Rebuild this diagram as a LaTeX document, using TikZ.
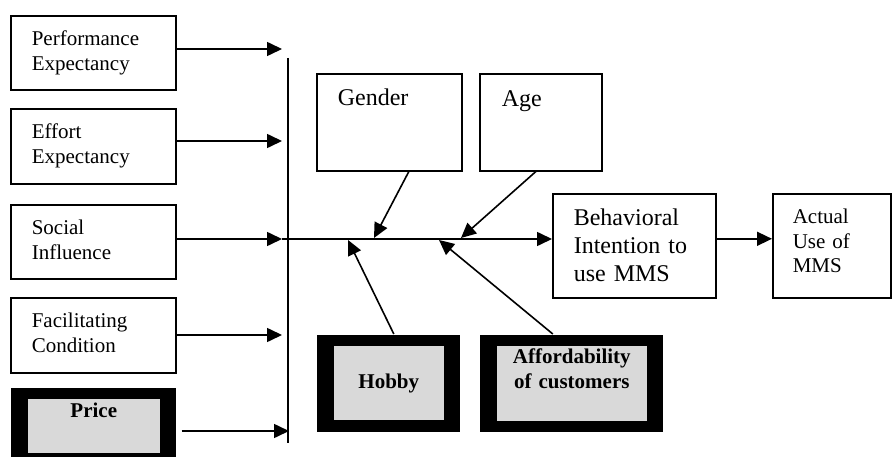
\documentclass[tikz,border=0pt]{standalone}
\usepackage{fontspec}
\setmainfont{Liberation Serif}
\usepackage{tikz}
\usetikzlibrary{arrows.meta}
\usepackage{xcolor}
\definecolor{boxgrey}{RGB}{217,217,217}

\begin{document}
\begin{tikzpicture}[x=1pt,y=-1pt,>={Triangle[length=15pt,width=14pt]},
  line width=1.6pt,
  plainbox/.style={draw,anchor=north west,inner ysep=0pt,align=left},
  smallfont/.style={font=\fontsize{21}{25}\selectfont},
  bigfont/.style={font=\fontsize{24}{28}\selectfont},
  framebox/.style={fill=black,anchor=north west,inner sep=0pt},
  greybox/.style={fill=boxgrey,anchor=north west,inner sep=0pt,align=center,
    font=\fontsize{21}{25}\selectfont\bfseries}]
\useasboundingbox (0,0) rectangle (893,457);
% left column
\node[plainbox,smallfont,inner xsep=21pt,text width=123pt,text height=30pt,text depth=44pt] (pe) at (10,15) {Performance\\Expectancy};
\node[plainbox,smallfont,inner xsep=21pt,text width=123pt,text height=30pt,text depth=45pt] (ee) at (10,108) {Effort\\Expectancy};
\node[plainbox,smallfont,inner xsep=21pt,text width=123pt,text height=30pt,text depth=44pt] (si) at (10,204) {Social\\Influence};
\node[plainbox,smallfont,inner xsep=21pt,text width=123pt,text height=30pt,text depth=45pt] (fc) at (10,297) {Facilitating\\Condition};
\node[framebox,minimum width=165pt,minimum height=76pt] (pricef) at (10,387) {};
\node[greybox,text width=132pt,text height=19pt,text depth=35pt] (price) at (27,398) {Price};
% moderators
\node[plainbox,bigfont,inner xsep=21pt,text width=103pt,text height=32pt,text depth=65pt] (gender) at (316,73) {Gender};
\node[plainbox,bigfont,inner xsep=22pt,text width=78pt,text height=33pt,text depth=64pt] (age) at (479,73) {Age};
\node[framebox,minimum width=143pt,minimum height=97pt] (hobbyf) at (316,334) {};
\node[greybox,text width=110pt,text height=43pt,text depth=31pt] (hobby) at (333,345) {Hobby};
\node[framebox,minimum width=183pt,minimum height=97pt] (afff) at (479,334) {};
\node[greybox,text width=150pt,text height=18pt,text depth=57pt] (aff) at (496,345) {Affordability\\of customers};
% outcomes
\node[plainbox,bigfont,inner xsep=21pt,text width=121pt,text height=32pt,text depth=72pt] (bi) at (552,193) {Behavioral\\Intention to\\use MMS};
\node[plainbox,font=\fontsize{21}{24.5}\selectfont,inner xsep=20pt,text width=78pt,text height=30pt,text depth=74pt] (au) at (772,193) {Actual\\Use of\\MMS};

% bar and points on it
\coordinate (bartop) at (288,58);
\coordinate (barbot) at (288,443);
\coordinate (b1) at (282,49);
\coordinate (b2) at (282,141);
\coordinate (b3) at (282,239);
\coordinate (b4) at (282,335);
\coordinate (b5) at (289,431);
\coordinate (g1) at (374,238);
\coordinate (a1) at (461,238);
\coordinate (h1) at (348,240);
\coordinate (f1) at (439,240);
\draw (bartop) -- (barbot);

\draw[->] (pe.east |- b1) -- (b1);
\draw[->] (ee.east |- b2) -- (b2);
\draw[->] (si.east |- b3) -- (b3);
\draw[->] (fc.east |- b4) -- (b4);
\draw[->] (pricef.east |- b5) ++(5,0) -- (b5);
\draw[->] (b3) -- (bi.west |- b3);
\draw[->] ([yshift=7pt]bi.east) -- ([yshift=7pt]au.west);

\draw[->] ([xshift=19.5pt]gender.south) -- (g1);
\draw[->] ([xshift=-5pt]age.south) -- (a1);
\draw[->] ([xshift=5.5pt]hobbyf.north) -- (h1);
\draw[->] ([xshift=-18.5pt]afff.north) -- (f1);
\end{tikzpicture}
\end{document}
